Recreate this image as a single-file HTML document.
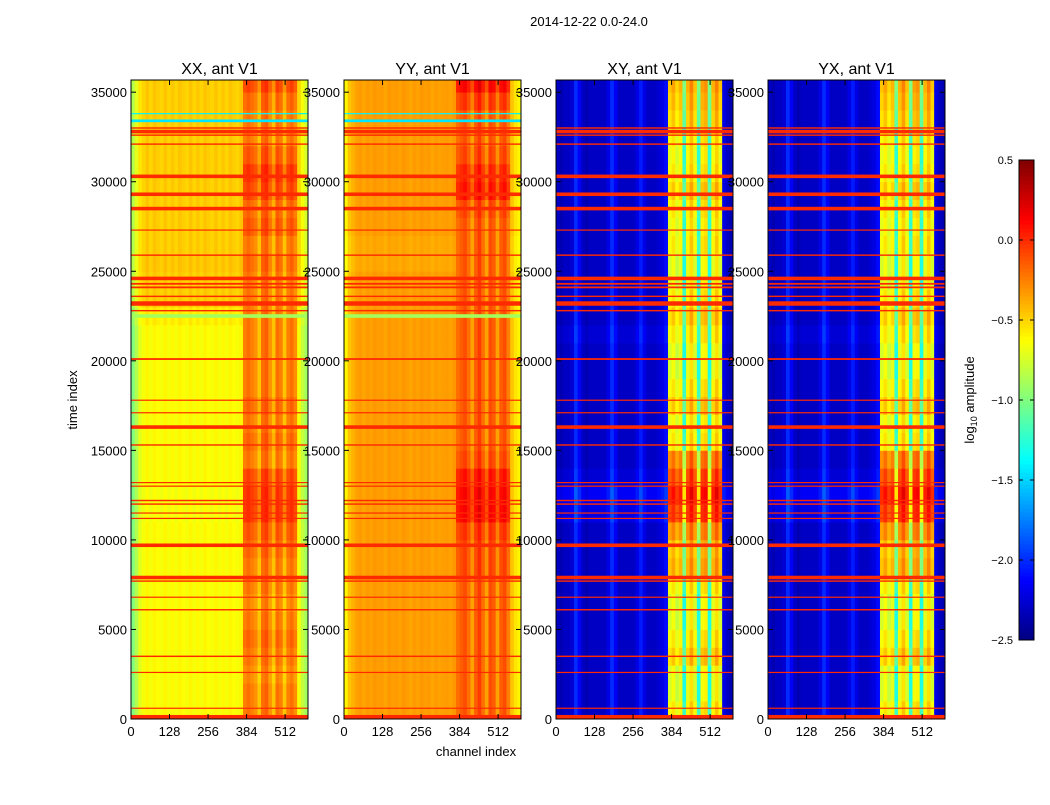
<!DOCTYPE html>
<html><head><meta charset="utf-8"><style>
body{margin:0;background:#fff;}
svg text{font-family:"Liberation Sans","DejaVu Sans",sans-serif;fill:#000;}
</style></head><body>
<svg id="fig" width="1050" height="800" xmlns="http://www.w3.org/2000/svg">
<rect width="1050" height="800" fill="#fff"/>
<text x="589" y="26" font-size="13" text-anchor="middle">2014-12-22 0.0-24.0</text>
<g id="panels"></g>
<text transform="translate(77,400) rotate(-90)" font-size="13" text-anchor="middle">time index</text>
<text x="476" y="756" font-size="13" text-anchor="middle">channel index</text>
<g id="cbar"></g>
<text transform="translate(974,400) rotate(-90)" font-size="13" text-anchor="middle">log<tspan font-size="9" dy="3">10</tspan><tspan dy="-3"> amplitude</tspan></text>
</svg>
<script>
// ---- data ----
const titles = ["XX, ant V1","YY, ant V1","XY, ant V1","YX, ant V1"];
const xTicks = [0,128,256,384,512];
const yTicks = [0,5000,10000,15000,20000,25000,30000,35000];
const cbTicks = [0.5,0.0,-0.5,-1.0,-1.5,-2.0,-2.5];
// channel profile (49 bins of 12 channels)
const chanXX = [-0.95,-0.8,-0.65,-0.6,-0.55,-0.6,-0.55,-0.58,-0.6,-0.55,-0.6,-0.56,-0.6,-0.55,-0.58,-0.6,-0.55,-0.6,-0.56,-0.6,-0.55,-0.58,-0.6,-0.55,-0.6,-0.56,-0.6,-0.55,-0.58,-0.6,-0.55,-0.25,-0.2,-0.25,-0.3,-0.45,-0.2,-0.15,-0.3,-0.45,-0.2,-0.25,-0.45,-0.25,-0.2,-0.3,-0.6,-0.75,-0.85];
const chanYY = [-0.6,-0.45,-0.4,-0.35,-0.33,-0.36,-0.33,-0.35,-0.32,-0.34,-0.33,-0.36,-0.32,-0.34,-0.33,-0.35,-0.32,-0.34,-0.36,-0.33,-0.35,-0.32,-0.34,-0.33,-0.36,-0.33,-0.35,-0.34,-0.33,-0.35,-0.32,-0.2,-0.15,-0.1,-0.2,-0.35,-0.15,-0.05,-0.2,-0.35,-0.1,-0.15,-0.35,-0.15,-0.1,-0.25,-0.45,-0.55,-0.6];
const chanXY = [-2.3,-2.35,-2.3,-2.3,-2.25,-2.0,-2.15,-2.3,-2.35,-2.3,-2.3,-2.3,-2.3,-2.3,-2.2,-2.0,-2.15,-2.3,-2.3,-2.3,-2.3,-2.3,-2.2,-2.05,-2.2,-2.3,-2.3,-2.3,-2.25,-2.2,-2.1,-0.85,-0.75,-0.9,-0.8,-1.4,-0.8,-0.65,-0.85,-1.4,-0.75,-0.7,-1.4,-0.8,-0.65,-0.85,-2.2,-2.3,-2.35];
const chanYX = chanXY;
// time offsets (36 rows of 1000 time units); high band and low band
const highXX = [0,0,-0.05,0,0.05,0,-0.05,0,0,0.05,0.1,0.2,0.2,0.15,0,0.05,0,0.05,0,0,0,0,0,0,0,0.05,0,0.1,0.05,0.15,0.2,0.1,0,0,0.05,0.15];
const lowXX = [-0.05,-0.05,-0.05,-0.05,-0.05,-0.05,-0.05,-0.05,-0.05,-0.05,-0.05,-0.07,-0.07,-0.05,-0.05,-0.05,-0.05,-0.05,-0.05,-0.05,-0.05,-0.05,0,0.1,0.1,0.12,0.1,0.1,0.1,0.1,0.1,0.1,0.1,0.1,0.1,0.1];
const highYY = [0,0,0,0,0,0,0,0,0.05,0.05,0.1,0.25,0.25,0.2,0.05,0,0,0,0,0,0,0,0,0,0,0,0,0,0.05,0.2,0.15,0.05,0,0,0.1,0.25];
const lowYY = [0,0,0,0,0,0,0,0,0,0,0,0,0,0,0,0,0,0,0,0,0,0,0,0,0,-0.03,-0.03,0,0,0,0,0,0,0,0,0];
const highXY = [0.2,0.1,0.1,0.3,0.2,0.1,0.1,0.2,0.4,0.35,0.5,0.75,0.85,0.7,0.55,0.2,0.15,0.3,0.2,0.1,0.1,0.2,0.3,0.2,0.1,0.1,0.2,0.15,0.2,0.3,0.2,0.15,0.2,0.3,0.35,0.4];
const lowXY = [0,0,0,0,0,0,0,0,0,0,0,0.1,0.15,0.05,0,0,0,0,0,0,0,0.05,0,0,0,0,0,0,0,0,0,0,0,0,0,0];
// flagged rows: [time, thickness]
const flagTimes = [100,600,2600,3500,6100,6800,7700,7900,9700,11200,11500,12000,12200,13000,13200,15300,16300,17100,17800,20100,22800,23200,23600,24100,24300,24600,25900,27300,28500,29300,30300,32100,32600,32800,33000];
const flagWidth = [250,60,50,80,80,50,80,200,200,60,60,80,80,60,60,80,200,60,50,100,80,250,80,100,100,200,80,60,200,200,200,80,80,200,80];
const cyanTimes = [33400,33800,22500];
const cyanVals = [-1.45,-1.4,-0.9];
const cyanWidth = [150,60,200];

const panelX = [131,344,556,768];
const chans = [chanXX,chanYY,chanXY,chanYX];
const highs = [highXX,highYY,highXY,highXY];
const lows = [lowXX,lowYY,lowXY,lowXY];
const PW=177, PT=80, PB=719, XMAX=588, YMAX=35680;
const NS="http://www.w3.org/2000/svg";
function jet(v){let t=(v+2.5)/3;t=Math.max(0,Math.min(1,t));
 const c=x=>Math.round(255*Math.max(0,Math.min(1,x)));
 return `rgb(${c(1.5-Math.abs(4*t-3))},${c(1.5-Math.abs(4*t-2))},${c(1.5-Math.abs(4*t-1))})`;}
function mk(tag,attrs,parent){const e=document.createElementNS(NS,tag);for(const k in attrs)e.setAttribute(k,attrs[k]);parent.appendChild(e);return e;}
const panels=document.getElementById('panels');
const labelLayer=document.createElementNS(NS,'g');
panelX.forEach((x0,p)=>{
 const sx=c=>x0+c/XMAX*PW, sy=t=>PB-t/YMAX*(PB-PT);
 const g=mk('g',{},panels);
 
 
 const ch=chans[p],hi=highs[p],lo=lows[p];
 for(let r=0;r<36;r++){
  const y1=sy(Math.min((r+1)*1000,YMAX)),y0=sy(r*1000);
  for(let c=0;c<ch.length;c++){
   const isHigh=c>=31&&c<=45;
   const v=ch[c]+(isHigh?hi[r]:lo[r]);
   const rc=mk('rect',{x:sx(c*12).toFixed(2),y:y1.toFixed(2),width:(sx(12)-x0+0.4).toFixed(2),height:(y0-y1+0.4).toFixed(2),fill:jet(v)},g);
   
   
  }
 }
 if(p<2){cyanTimes.forEach((t,i)=>{
  const h=Math.max(1.2,cyanWidth[i]/YMAX*(PB-PT));
  const l=mk('rect',{x:x0,y:(sy(t)-h/2).toFixed(2),width:PW,height:h.toFixed(2),fill:jet(cyanVals[i])},g);
  
  
 });}
 flagTimes.forEach((t,i)=>{
  const h=Math.max(1.2,flagWidth[i]/YMAX*(PB-PT));
  const l=mk('rect',{x:x0,y:(sy(t)-h/2).toFixed(2),width:PW,height:h.toFixed(2),fill:jet(0.0)},g);
  
  
 });
 mk('rect',{x:x0,y:PT,width:PW,height:PB-PT,fill:'none',stroke:'#000','stroke-width':1},g);
 const tt=mk('text',{x:x0+PW/2,y:74,'font-size':16,'text-anchor':'middle'},labelLayer);
 tt.textContent=titles[p];
 
 
 xTicks.forEach(v=>{const x=sx(v);
  mk('line',{x1:x,x2:x,y1:PB,y2:PB-5,stroke:'#000'},g);mk('line',{x1:x,x2:x,y1:PT,y2:PT+5,stroke:'#000'},g);
  const t=mk('text',{x:x,y:736,'font-size':13,'text-anchor':'middle'},labelLayer);t.textContent=v;
  
  });
 yTicks.forEach(v=>{const y=sy(v);
  mk('line',{x1:x0,x2:x0+5,y1:y,y2:y,stroke:'#000'},g);mk('line',{x1:x0+PW,x2:x0+PW-5,y1:y,y2:y,stroke:'#000'},g);
  const t=mk('text',{x:x0-4,y:y+5,'font-size':13,'text-anchor':'end'},labelLayer);t.textContent=v;
  
  });
});
panels.appendChild(labelLayer);
// colorbar
const cb=document.getElementById('cbar');
const CX=1019,CW=15,CT=160,CB=640;
const cys=v=>CB-(v+2.5)/3*(CB-CT);
for(let i=0;i<120;i++){const v=-2.5+3*(i+0.5)/120;
 const r=mk('rect',{x:CX,y:(cys(-2.5+3*(i+1)/120)).toFixed(2),width:CW,height:((CB-CT)/120+0.5).toFixed(2),fill:jet(v)},cb);
 
 }
mk('rect',{x:CX,y:CT,width:CW,height:CB-CT,fill:'none',stroke:'#000'},cb);
cbTicks.forEach(v=>{const y=cys(v);
 mk('line',{x1:CX,x2:CX+4,y1:y,y2:y,stroke:'#000'},cb);mk('line',{x1:CX+CW,x2:CX+CW-4,y1:y,y2:y,stroke:'#000'},cb);
 const t=mk('text',{x:1013,y:y+4,'font-size':11,'text-anchor':'end'},cb);t.textContent=v.toFixed(1).replace('-','\u2212');
 
 });
</script>
</body></html>
